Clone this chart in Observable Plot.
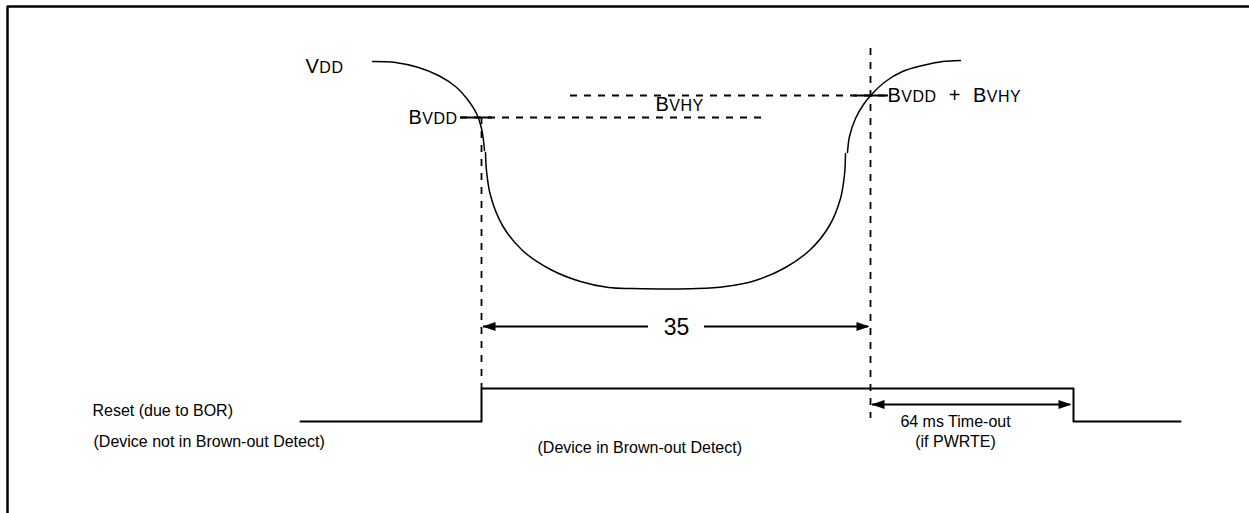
<!DOCTYPE html>
<html><head><meta charset="utf-8">
<script src="https://cdn.jsdelivr.net/npm/d3@7"></script>
<script src="https://cdn.jsdelivr.net/npm/@observablehq/plot@0.6"></script>
<style>html,body{margin:0;padding:0;background:#fff;overflow:hidden;} #chart svg{display:block;max-width:none;overflow:hidden;}</style>
</head><body><div id="chart"></div>
<script>
// time axis t (arbitrary units), level axis v (measured downward from top)
const vddFall = [
  {t:372,v:61},{t:395,v:62},{t:418,v:67},{t:438,v:75},{t:455,v:86},{t:467,v:99},
  {t:476,v:113},{t:481,v:128},{t:483,v:140},{t:484,v:150}
];
const vddDip = [
  {t:485,v:152},{t:486,v:170},{t:490,v:195},{t:502,v:225},{t:522,v:250},{t:550,v:269},
  {t:580,v:281},{t:608,v:287},{t:632,v:288},{t:697,v:288},{t:725,v:286},{t:755,v:280},
  {t:785,v:267},{t:810,v:249},{t:829,v:225},{t:840,v:198},{t:844,v:174},{t:845,v:153}
];
const vddRise = [
  {t:847,v:152},{t:849,v:136},{t:855,v:118},{t:863,v:104},{t:872,v:93},{t:885,v:81},
  {t:902,v:71},{t:922,v:65},{t:942,v:61},{t:960,v:60}
];
const resetSignal = [
  {t:300,v:421},{t:481,v:421},{t:481,v:388},{t:1073,v:388},{t:1073,v:421},{t:1180,v:421}
];
const dashedLevels = [ {v:117,t1:460,t2:768}, {v:95,t1:570,t2:888} ];
const levelTicks   = [ {v:117,t1:460,t2:492}, {v:95,t1:853,t2:888} ];
const dashedMarkers = [ {t:481,v1:117,v2:388}, {t:870,v1:48,v2:418} ];
const arrowShafts = [ {v:326,t1:483,t2:648}, {v:326,t1:704,t2:868}, {v:404,t1:872,t2:1070} ];
const arrowHeadsLeft  = [ {t:482,v:326}, {t:871,v:404} ];
const arrowHeadsRight = [ {t:869,v:326}, {t:1071,v:404} ];
const bottomLabels = [
  {t:92, v:410, text:"Reset (due to BOR)"},
  {t:93, v:441, text:"(Device not in Brown-out Detect)"},
  {t:537, v:447, text:"(Device in Brown-out Detect)"}
];
const timeoutLabels = [
  {t:955,v:421,text:"64 ms Time-out"},
  {t:955,v:441,text:"(if PWRTE)"}
];
const spanLabel = [ {t:676,v:327,text:"35"} ];
const scStartLabels = [
  {t:305,v:66, text:"VDD"},
  {t:655,v:104,text:"BVHY"},
  {t:887,v:95, text:"BVDD + BVHY"}
];
const scEndLabels = [ {t:457,v:117,text:"BVDD"} ];
const frameTop = [ {v:6,t1:7,t2:1249} ];
const frameLeft = [ {t:7,v1:6,v2:513} ];

const W = 1249, H = 513;
const headRight = {draw(ctx){ ctx.moveTo(0,0); ctx.lineTo(-13,-4.5); ctx.lineTo(-13,4.5); ctx.closePath(); }};
const headLeft  = {draw(ctx){ ctx.moveTo(0,0); ctx.lineTo(13,-4.5); ctx.lineTo(13,4.5); ctx.closePath(); }};

const chart = Plot.plot({
  width: W, height: H, margin: 0,
  x: {domain:[0,W], range:[0,W], axis:null},
  y: {domain:[0,H], range:[0,H], axis:null},
  style: {fontFamily:"'Liberation Sans', Arial, Helvetica, sans-serif", fontSize:"16px", background:"white", color:"black"},
  marks: [
    Plot.ruleY(frameTop, {y:"v", x1:"t1", x2:"t2", stroke:"black", strokeWidth:2.5}),
    Plot.ruleX(frameLeft, {x:"t", y1:"v1", y2:"v2", stroke:"black", strokeWidth:2.5}),
    Plot.ruleY(dashedLevels, {y:"v", x1:"t1", x2:"t2", stroke:"black", strokeWidth:1.8, strokeDasharray:"7,7"}),
    Plot.ruleX(dashedMarkers, {x:"t", y1:"v1", y2:"v2", stroke:"black", strokeWidth:1.8, strokeDasharray:"7,7"}),
    Plot.ruleY(levelTicks, {y:"v", x1:"t1", x2:"t2", stroke:"black", strokeWidth:2}),
    Plot.line(vddFall, {x:"t", y:"v", curve:"catmull-rom", stroke:"black", strokeWidth:1.5}),
    Plot.line(vddDip, {x:"t", y:"v", curve:"catmull-rom", stroke:"black", strokeWidth:1.5}),
    Plot.line(vddRise, {x:"t", y:"v", curve:"catmull-rom", stroke:"black", strokeWidth:1.5}),
    Plot.line(resetSignal, {x:"t", y:"v", stroke:"black", strokeWidth:2}),
    Plot.ruleY(arrowShafts, {y:"v", x1:"t1", x2:"t2", stroke:"black", strokeWidth:2}),
    Plot.dot(arrowHeadsLeft, {x:"t", y:"v", symbol:headLeft, fill:"black", stroke:"none"}),
    Plot.dot(arrowHeadsRight, {x:"t", y:"v", symbol:headRight, fill:"black", stroke:"none"}),
    Plot.text(bottomLabels, {x:"t", y:"v", text:"text", textAnchor:"start", fill:"black", fontSize:16}),
    Plot.text(timeoutLabels, {x:"t", y:"v", text:"text", textAnchor:"middle", fill:"black", fontSize:16}),
    Plot.text(spanLabel, {x:"t", y:"v", text:"text", textAnchor:"middle", fill:"black", fontSize:23}),
    Plot.text(scStartLabels, {x:"t", y:"v", text:"text", textAnchor:"start", fill:"black", fontSize:20}),
    Plot.text(scEndLabels, {x:"t", y:"v", text:"text", textAnchor:"end", fill:"black", fontSize:20})
  ]
});
document.getElementById("chart").appendChild(chart);

// render small-caps labels (first capital full size, remaining capitals reduced)
const scSet = new Set([...scStartLabels, ...scEndLabels].map(d => d.text));
d3.select(chart).selectAll("text").each(function() {
  const s = this.textContent;
  if (!scSet.has(s)) return;
  const el = d3.select(this);
  el.text("").style("white-space", "pre").attr("letter-spacing", "0.5");
  for (const tok of s.split(/(\s+)/)) {
    if (/^[A-Z]{2,}$/.test(tok)) {
      el.append("tspan").text(tok[0]);
      el.append("tspan").attr("font-size", "0.8em").text(tok.slice(1));
    } else if (/^\s+$/.test(tok)) {
      el.append("tspan").attr("dx", 6).text(tok);
    } else if (tok.length) {
      el.append("tspan").text(tok);
    }
  }
});
</script>
</body></html>
